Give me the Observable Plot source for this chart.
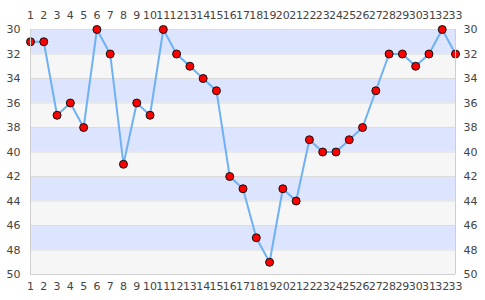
<!DOCTYPE html>
<html><head><meta charset="utf-8">
<script src="https://cdn.jsdelivr.net/npm/d3@7"></script>
<script src="https://cdn.jsdelivr.net/npm/@observablehq/plot@0.6"></script>
<style>body{margin:0;background:#fff;} svg{display:block;}</style>
</head><body><div id="chart"></div>
<script>
const xs = d3.range(1, 34);
const values = [31,31,37,36,38,30,32,41,36,37,30,32,33,34,35,42,43,47,49,43,44,39,40,40,39,38,35,32,32,33,32,30,32];
const yTicks = [30,32,34,36,38,40,42,44,46,48,50];
const data = xs.map((x, i) => ({x, y: values[i]}));
const bands = yTicks.slice(0, -1).map((v, i) => ({y1: v, y2: yTicks[i + 1], c: i % 2 === 0 ? "#dde4fd" : "#f6f6f6"}));

const chart = Plot.plot({
  width: 485, height: 300,
  marginLeft: 30, marginRight: 30, marginTop: 29, marginBottom: 26,
  style: {fontFamily: "DejaVu Sans", fontSize: "11px", color: "#444", background: "#fff"},
  x: {domain: [1, 33]},
  y: {domain: [30, 50], reverse: true},
  marks: [
    Plot.rectY(bands, {x1: 1, x2: 33, y1: "y1", y2: "y2", fill: "c"}),
    Plot.ruleY(yTicks, {stroke: "#dcdcdc", strokeWidth: 1}),
    Plot.line(data, {x: "x", y: "y", stroke: "#6fb1f5", strokeWidth: 2}),
    Plot.dot(data, {x: "x", y: "y", r: 4, fill: "#ff0000", stroke: "#111", strokeWidth: 1}),
    Plot.ruleX([1, 33], {stroke: "#cfcfcf"}),
    Plot.ruleY([50], {stroke: "#cfcfcf"}),
    Plot.axisX(xs, {anchor: "top", tickSize: 0, tickPadding: 11, label: null, fill: "#444", fontSize: 11, tickFormat: d => d}),
    Plot.axisX(xs, {anchor: "bottom", tickSize: 0, tickPadding: 8, label: null, fill: "#444", fontSize: 11, tickFormat: d => d}),
    Plot.axisY(yTicks, {anchor: "left", tickSize: 0, tickPadding: 10, label: null, fill: "#444", fontSize: 11}),
    Plot.axisY(yTicks, {anchor: "right", tickSize: 0, tickPadding: 8, label: null, fill: "#444", fontSize: 11})
  ]
});
document.getElementById("chart").append(chart);
</script></body></html>
